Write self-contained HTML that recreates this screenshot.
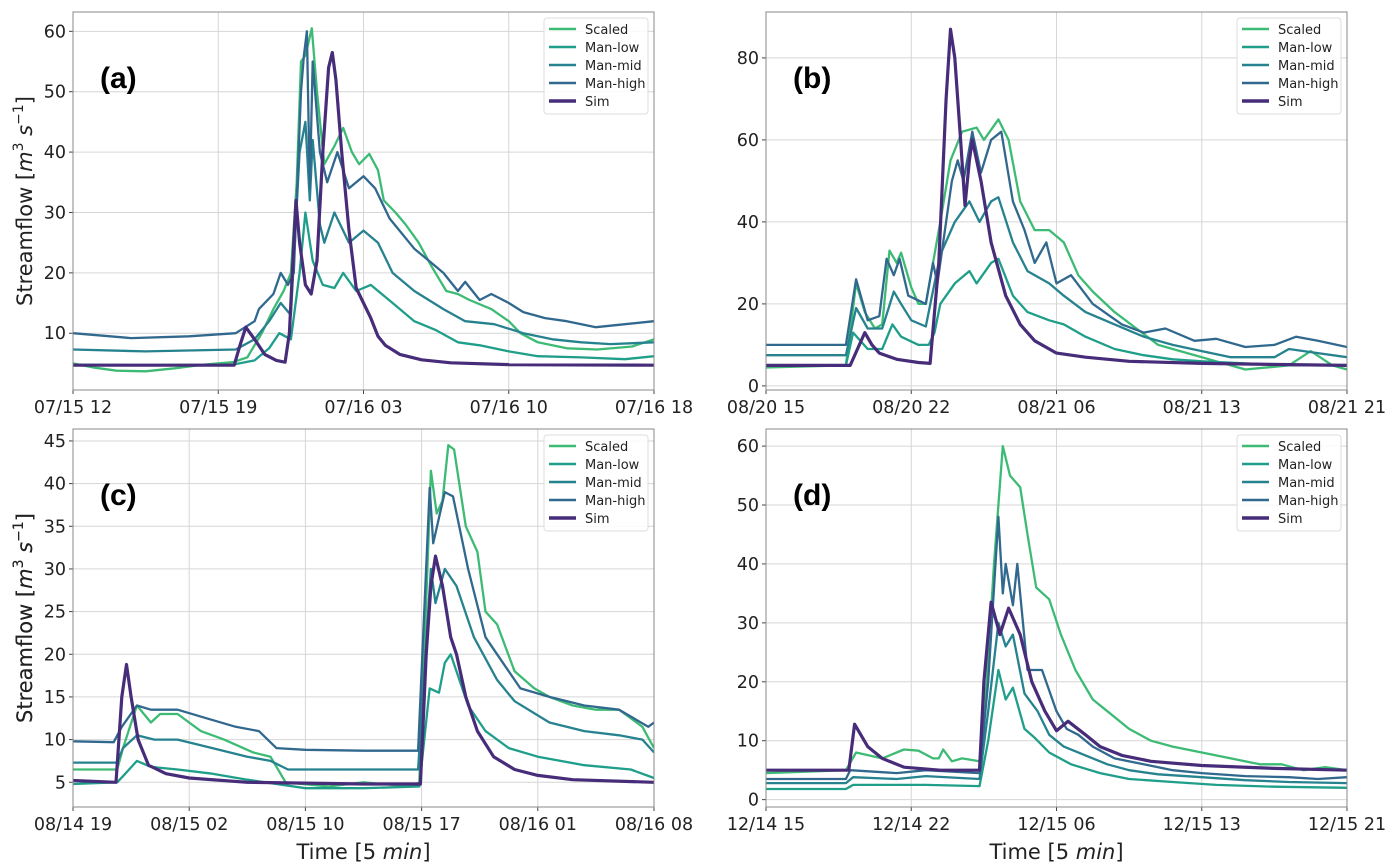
<!DOCTYPE html>
<html><head><meta charset="utf-8">
<style>
html,body{margin:0;padding:0;background:#fff;}
svg{display:block;font-family:"DejaVu Sans","Liberation Sans",sans-serif;}
</style></head>
<body>
<svg id="chart" width="1399" height="868" viewBox="0 0 1399 868" xmlns="http://www.w3.org/2000/svg"></svg>
<script>
// ---- Panel (a) data: [x position in tick units, streamflow m3/s]
const aTicks = ["07/15 12","07/15 19","07/16 03","07/16 10","07/16 18"];
const aYTicks = [10,20,30,40,50,60];
const aScaled = [[0,5],[0.15,4.3],[0.3,3.8],[0.5,3.7],[0.7,4.2],[0.9,4.8],[1.1,5.2],[1.2,6],[1.3,10],[1.38,14],[1.45,17],[1.5,20],[1.54,35],[1.57,55],[1.6,56],[1.644,60.5],[1.68,50],[1.73,38],[1.8,41],[1.86,44],[1.92,40],[1.97,38],[2.04,39.7],[2.1,37],[2.14,32],[2.22,30],[2.29,28],[2.38,25],[2.47,21],[2.57,17],[2.65,16.5],[2.73,15.5],[2.88,14],[3.0,12],[3.08,10],[3.2,8.5],[3.4,7.5],[3.61,7.3],[3.85,7.8],[4,9]];
const aLow = [[0,4.8],[0.5,4.7],[1.1,4.8],[1.25,5.5],[1.35,7.5],[1.42,10],[1.5,9],[1.56,20],[1.6,30],[1.65,22],[1.72,18],[1.8,17.5],[1.86,20],[1.95,17],[2.05,18],[2.2,15],[2.35,12],[2.5,10.5],[2.65,8.5],[2.8,8],[3.0,7],[3.2,6.2],[3.5,6],[3.8,5.7],[4,6.2]];
const aMid = [[0,7.3],[0.5,7],[1.12,7.3],[1.25,9],[1.35,12],[1.43,15],[1.5,13],[1.56,40],[1.6,45],[1.63,32],[1.65,42],[1.7,28],[1.73,25],[1.8,30],[1.9,25],[2.0,27],[2.1,25],[2.2,20],[2.35,17],[2.55,14],[2.7,12],[2.9,11.5],[3.1,10],[3.3,9],[3.5,8.5],[3.7,8.2],[4,8.5]];
const aHigh = [[0,10],[0.4,9.2],[0.8,9.5],[1.12,10],[1.25,12],[1.28,14],[1.38,16.5],[1.43,20],[1.48,18],[1.52,20],[1.57,50],[1.59,56],[1.61,60],[1.63,34],[1.65,55],[1.7,40],[1.75,35],[1.82,40],[1.9,34],[2.0,36],[2.08,34],[2.18,29],[2.35,24],[2.45,22],[2.55,20],[2.65,17],[2.7,18.5],[2.8,15.5],[2.88,16.5],[3.0,15],[3.1,13.5],[3.25,12.5],[3.4,12],[3.6,11],[3.8,11.5],[4,12]];
const aSim = [[0,4.7],[1.11,4.7],[1.15,8],[1.19,11],[1.25,9],[1.32,6.5],[1.4,5.5],[1.46,5.2],[1.49,10],[1.52,25],[1.535,32],[1.56,25],[1.6,18],[1.64,16.5],[1.68,22],[1.72,40],[1.76,54],[1.785,56.5],[1.81,52],[1.85,40],[1.9,27],[1.95,17.5],[2.0,15],[2.05,12.5],[2.1,9.5],[2.15,8],[2.25,6.5],[2.4,5.6],[2.6,5.1],[3.0,4.8],[4,4.7]];
// ---- Panel (b)
const bTicks = ["08/20 15","08/20 22","08/21 06","08/21 13","08/21 21"];
const bYTicks = [0,20,40,60,80];
const bScaled = [[0,4.5],[0.55,5],[0.62,25],[0.68,18],[0.75,14],[0.8,15],[0.85,33],[0.9,30],[0.93,32.5],[1.0,24],[1.05,20],[1.1,20],[1.15,30],[1.2,40],[1.27,55],[1.35,62],[1.45,63],[1.5,60],[1.6,65],[1.67,60],[1.75,45],[1.85,38],[1.95,38],[2.05,35],[2.15,27],[2.25,23],[2.4,18],[2.55,14],[2.7,10],[2.9,8],[3.1,6],[3.3,4],[3.6,5],[3.75,8.5],[3.9,5],[4,4]];
const bLow = [[0,5],[0.55,5],[0.6,13],[0.7,9],[0.8,9],[0.87,15],[0.93,12],[1.05,10],[1.12,10],[1.16,13],[1.2,20],[1.3,25],[1.4,28],[1.45,25],[1.55,30],[1.6,31],[1.7,22],[1.8,18],[1.95,16],[2.05,15],[2.2,12],[2.4,9],[2.6,7.5],[2.8,6.5],[3.0,6],[3.3,5.5],[3.6,5],[4,5]];
const bMid = [[0,7.5],[0.55,7.5],[0.62,19],[0.7,14],[0.8,14],[0.88,23],[0.93,20],[1.0,16],[1.1,14.5],[1.16,25],[1.2,32],[1.3,40],[1.4,45],[1.47,40],[1.55,45],[1.6,46],[1.7,35],[1.8,28],[1.95,25],[2.05,22],[2.2,18],[2.4,15],[2.6,12],[2.8,10],[3.0,8.5],[3.2,7],[3.5,7],[3.6,9],[3.8,8],[4,7]];
const bHigh = [[0,10],[0.55,10],[0.62,26],[0.7,16],[0.78,17],[0.83,31],[0.88,27],[0.92,31],[0.98,22],[1.1,20],[1.15,30],[1.18,25],[1.28,50],[1.32,55],[1.36,50],[1.42,62],[1.48,52],[1.55,60],[1.62,62],[1.7,45],[1.78,38],[1.85,30],[1.93,35],[2.0,25],[2.1,27],[2.25,20],[2.45,15],[2.6,13],[2.75,14],[2.95,11],[3.1,11.5],[3.3,9.5],[3.5,10],[3.65,12],[3.8,11],[4,9.5]];
const bSim = [[0,5],[0.58,5],[0.63,9],[0.68,13],[0.73,10],[0.78,8],[0.9,6.5],[1.05,5.7],[1.13,5.5],[1.19,30],[1.24,70],[1.27,87],[1.3,80],[1.34,60],[1.37,44],[1.4,55],[1.42,60],[1.48,50],[1.55,35],[1.65,22],[1.75,15],[1.85,11],[2.0,8],[2.2,7],[2.5,6],[3.0,5.5],[4,5]];
// ---- Panel (c)
const cTicks = ["08/14 19","08/15 02","08/15 10","08/15 17","08/16 01","08/16 08"];
const cYTicks = [5,10,15,20,25,30,35,40,45];
const cScaled = [[0,6.5],[0.38,6.5],[0.43,9],[0.55,14],[0.67,12],[0.75,13],[0.9,13],[1.1,11],[1.3,10],[1.55,8.5],[1.7,8],[1.83,5],[2.2,4.5],[2.5,5],[2.9,4.5],[2.98,5],[3.05,30],[3.08,41.5],[3.13,36.5],[3.18,38],[3.23,44.5],[3.28,44],[3.38,35],[3.48,32],[3.55,25],[3.65,23.5],[3.8,18],[3.97,16],[4.1,15],[4.3,14],[4.5,13.5],[4.7,13.5],[4.9,11.5],[5,9]];
const cLow = [[0,4.8],[0.38,5],[0.45,6],[0.55,7.5],[0.67,6.8],[0.9,6.5],[1.2,6],[1.5,5.3],[1.75,4.8],[2.0,4.3],[2.5,4.3],[2.98,4.5],[3.07,16],[3.15,15.5],[3.2,19],[3.25,20],[3.4,14],[3.55,11],[3.75,9],[4.0,8],[4.4,7],[4.8,6.5],[5,5.5]];
const cMid = [[0,7.3],[0.38,7.3],[0.43,9],[0.55,10.5],[0.7,10],[0.9,10],[1.2,9],[1.5,8],[1.7,7.5],[1.85,6.5],[2.5,6.5],[2.97,6.5],[3.08,30],[3.12,26],[3.2,30],[3.3,28],[3.45,22],[3.65,17],[3.8,14.5],[4.1,12],[4.4,11],[4.7,10.5],[4.9,10],[5,8.5]];
const cHigh = [[0,9.8],[0.35,9.7],[0.42,11.5],[0.55,14],[0.67,13.5],[0.9,13.5],[1.15,12.5],[1.4,11.5],[1.6,11],[1.75,9],[2.0,8.8],[2.5,8.7],[2.97,8.7],[3.07,39.5],[3.1,33],[3.2,39],[3.27,38.5],[3.4,30],[3.55,22],[3.65,20],[3.85,16],[4.1,15],[4.4,14],[4.7,13.5],[4.95,11.5],[5,12]];
const cSim = [[0,5.2],[0.37,5],[0.42,15],[0.46,18.8],[0.5,15],[0.56,10],[0.65,7],[0.8,6],[1.0,5.5],[1.5,5],[2.5,4.8],[2.99,4.8],[3.04,20],[3.08,28],[3.12,31.5],[3.18,28],[3.25,22],[3.3,20],[3.38,15],[3.48,11],[3.62,8],[3.8,6.5],[4.0,5.8],[4.3,5.3],[5,5]];
// ---- Panel (d)
const dTicks = ["12/14 15","12/14 22","12/15 06","12/15 13","12/15 21"];
const dYTicks = [0,10,20,30,40,50,60];
const dScaled = [[0,4.5],[0.55,5],[0.62,8],[0.8,7],[0.95,8.5],[1.05,8.3],[1.15,7],[1.19,7],[1.22,8.5],[1.28,6.5],[1.35,7],[1.47,6.5],[1.52,20],[1.57,40],[1.63,60],[1.68,55],[1.75,53],[1.8,45],[1.86,36],[1.95,34],[2.03,28],[2.13,22],[2.25,17],[2.35,15],[2.5,12],[2.65,10],[2.8,9],[3.0,8],[3.2,7],[3.4,6],[3.55,6],[3.7,5],[3.85,5.5],[4,5]];
const dLow = [[0,1.8],[0.55,1.8],[0.6,2.5],[1.1,2.5],[1.47,2.3],[1.53,10],[1.6,22],[1.65,17],[1.7,19],[1.78,12],[1.85,10.5],[1.95,8],[2.1,6],[2.3,4.5],[2.5,3.5],[2.8,3],[3.1,2.5],[3.5,2.2],[4,2]];
const dMid = [[0,2.8],[0.55,2.8],[0.6,3.8],[0.9,3.5],[1.1,4],[1.47,3.5],[1.53,15],[1.6,30],[1.65,26],[1.7,28],[1.78,18],[1.87,15],[1.95,11],[2.05,9],[2.2,7.5],[2.35,6],[2.5,5],[2.7,4.3],[3.0,3.8],[3.3,3.3],[3.6,3],[4,2.8]];
const dHigh = [[0,3.5],[0.55,3.5],[0.58,5],[0.9,4.5],[1.1,5],[1.47,4.5],[1.53,20],[1.6,48],[1.63,35],[1.65,40],[1.7,33],[1.73,40],[1.8,22],[1.9,22],[2.0,15],[2.07,12],[2.15,11],[2.25,9],[2.4,7],[2.6,6],[2.8,5],[3.0,4.5],[3.3,4],[3.6,3.8],[3.8,3.5],[4,3.8]];
const dSim = [[0,5],[0.57,5],[0.61,12.8],[0.7,9],[0.8,7],[0.95,5.5],[1.2,5],[1.47,5],[1.5,20],[1.55,33.5],[1.61,28],[1.67,32.5],[1.75,28],[1.83,20],[1.92,15],[2.0,11.7],[2.08,13.3],[2.2,11],[2.3,9],[2.45,7.5],[2.65,6.5],[3.0,5.8],[3.5,5.3],[4,5]];

const seriesNames = ["Scaled","Man-low","Man-mid","Man-high","Sim"];
const seriesColors = ["#3dbb75","#1f9e89","#26828e","#31688e","#472c7a"];

const NS = "http://www.w3.org/2000/svg";
const svg = document.getElementById('chart');
function mk(tag, attrs, parent){
  const e = document.createElementNS(NS, tag);
  for (const k in attrs) e.setAttribute(k, attrs[k]);
  (parent||svg).appendChild(e);
  return e;
}

function panel(id, box, xTicks, xMax, yTicks, yMin, yMax, series, letter, showY, showX){
  const g = mk('g', {});
  
  
  const X = v => box.x0 + (v / xMax) * (box.x1 - box.x0);
  const Y = v => box.y1 - (v - yMin) / (yMax - yMin) * (box.y1 - box.y0);
  xTicks.forEach((t, i) => {
    const gl = mk('line', {x1:X(i), x2:X(i), y1:box.y0, y2:box.y1, stroke:'#d6d6d6', 'stroke-width':1}, g);
    
    
    const tk = mk('line', {x1:X(i), x2:X(i), y1:box.y1, y2:box.y1+4, stroke:'#444', 'stroke-width':1}, g);
    
    
    const tl = mk('text', {x:X(i), y:box.y1+23, 'text-anchor':'middle', 'font-size':17.5, fill:'#222'}, g);
    tl.textContent = t;
    
    
  });
  yTicks.forEach(v => {
    const gl = mk('line', {x1:box.x0, x2:box.x1, y1:Y(v), y2:Y(v), stroke:'#d6d6d6', 'stroke-width':1}, g);
    
    
    const tk = mk('line', {x1:box.x0-4, x2:box.x0, y1:Y(v), y2:Y(v), stroke:'#444', 'stroke-width':1}, g);
    
    
    const tl = mk('text', {x:box.x0-7, y:Y(v)+6, 'text-anchor':'end', 'font-size':17.5, fill:'#222'}, g);
    tl.textContent = v;
    
    
  });
  const cp = mk('clipPath', {id:'clip-'+id}, g);
  mk('rect', {x:box.x0, y:box.y0, width:box.x1-box.x0, height:box.y1-box.y0}, cp);
  const lg = mk('g', {'clip-path':'url(#clip-'+id+')'}, g);
  series.forEach((s, i) => {
    const d = s.map((p, j) => (j ? 'L' : 'M') + X(p[0]).toFixed(1) + ' ' + Y(p[1]).toFixed(1)).join(' ');
    const pl = mk('path', {d:d, fill:'none', stroke:seriesColors[i], 'stroke-width': i===4 ? 3.2 : 2.3, 'stroke-linejoin':'round'}, lg);
    
    
  });
  const fr = mk('rect', {x:box.x0, y:box.y0, width:box.x1-box.x0, height:box.y1-box.y0, fill:'none', stroke:'#888', 'stroke-width':1}, g);
  
  
  const lx = box.x1 - 110, ly = box.y0 + 6;
  const leg = mk('g', {}, g);
  
  
  mk('rect', {x:lx, y:ly, width:104, height:96, rx:3, fill:'#fff', 'fill-opacity':0.85, stroke:'#ddd', 'stroke-width':1}, leg);
  seriesNames.forEach((n, i) => {
    const yy = ly + 11 + i*18;
    const le = mk('g', {}, leg);
    
    
    mk('line', {x1:lx+5, x2:lx+32, y1:yy, y2:yy, stroke:seriesColors[i], 'stroke-width': i===4 ? 3.5 : 2.5}, le);
    const t = mk('text', {x:lx+41, y:yy+5, 'font-size':13, fill:'#222'}, le);
    t.textContent = n;
  });
  const lt = mk('text', {x:box.x0+27, y:box.y0+76, 'font-size':30, 'font-weight':'bold', fill:'#000', 'font-family':'"Liberation Sans", sans-serif'}, g);
  lt.textContent = '(' + letter + ')';
  
  
  if (showY){
    const cy = (box.y0 + box.y1)/2;
    const yl = mk('text', {x:0, y:0, transform:'translate(32,'+cy+') rotate(-90)', 'text-anchor':'middle', 'font-size':21, fill:'#222'}, g);
    yl.innerHTML = 'Streamflow [<tspan font-style="italic">m</tspan><tspan font-size="14" dy="-9">3</tspan><tspan dy="9"> </tspan><tspan font-style="italic">s</tspan><tspan font-size="14" dy="-9">−1</tspan><tspan dy="9">]</tspan>';
    
    
  }
  if (showX){
    const xl = mk('text', {x:(box.x0+box.x1)/2, y:box.y1+52, 'text-anchor':'middle', 'font-size':21, fill:'#222'}, g);
    xl.innerHTML = 'Time [5 <tspan font-style="italic">min</tspan>]';
    
    
  }
}

panel('a', {x0:73,x1:654,y0:12,y1:390}, aTicks, 4, aYTicks, 0.6, 63.2, [aScaled,aLow,aMid,aHigh,aSim], 'a', true, false);
panel('b', {x0:766,x1:1347,y0:12,y1:390}, bTicks, 4, bYTicks, -1.0, 91.2, [bScaled,bLow,bMid,bHigh,bSim], 'b', false, false);
panel('c', {x0:73,x1:654,y0:429,y1:807}, cTicks, 5, cYTicks, 2.1, 46.4, [cScaled,cLow,cMid,cHigh,cSim], 'c', true, true);
panel('d', {x0:766,x1:1347,y0:429,y1:807}, dTicks, 4, dYTicks, -1.25, 62.9, [dScaled,dLow,dMid,dHigh,dSim], 'd', true, true);
</script>
</body></html>
